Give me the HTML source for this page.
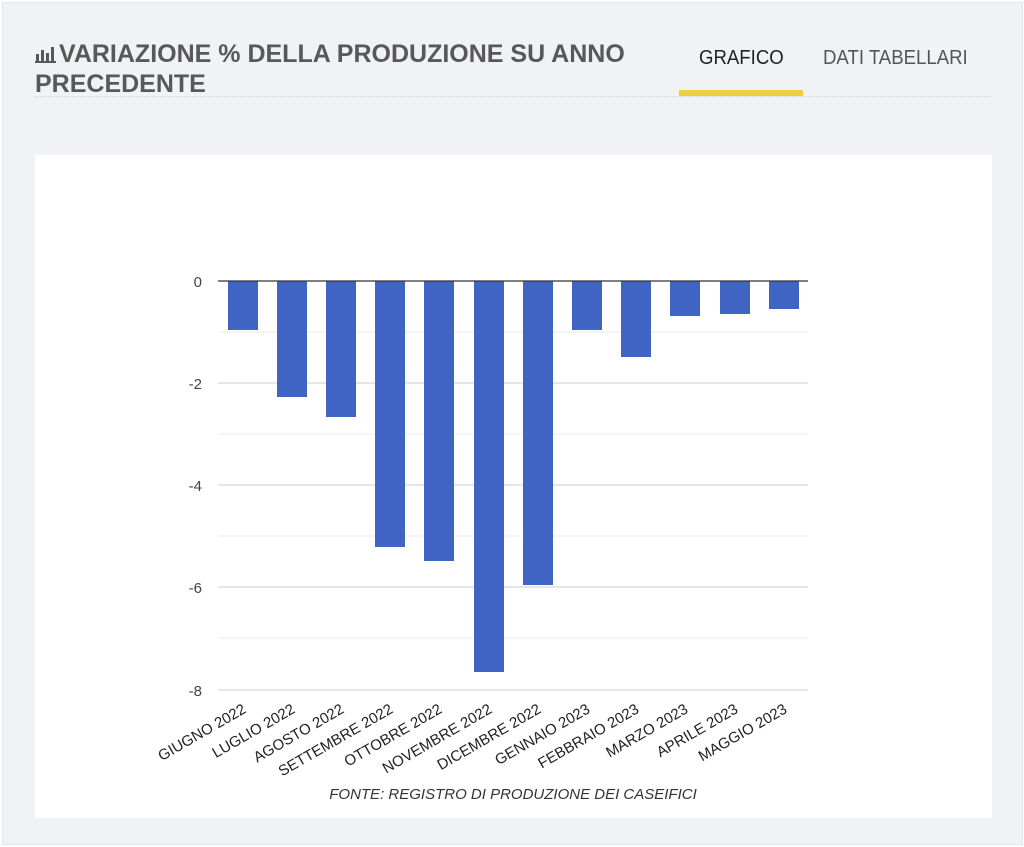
<!DOCTYPE html>
<html><head><meta charset="utf-8"><style>
body{margin:0;width:1024px;height:847px;background:#fff;font-family:"Liberation Sans",sans-serif;overflow:hidden}
.wrap{position:absolute;left:2px;top:2px;width:1019px;height:841px;background:#f1f2f6;border:1px solid #e2e4ea}
.title{position:absolute;left:32px;top:36px;color:#585858;font-weight:bold;font-size:25px;line-height:30px;transform:scaleX(1.0);transform-origin:0 0;width:720px;letter-spacing:0px}
.tab{position:absolute;top:44px;font-size:20px;color:#333;transform:scaleX(0.93);transform-origin:0 0}
.line{position:absolute;left:32px;top:93px;width:956px;border-top:1px dotted #d8d8d8}
.yb{position:absolute;left:676px;top:87px;width:124px;height:6px;background:#f2cc3d}
.panel{position:absolute;left:32px;top:152px;width:957px;height:663px;background:#fff}
</style></head><body>
<div class="wrap">
<div class="title"><svg width="24" height="18" style="vertical-align:-1px"><g fill="#585858"><rect x="1" y="9" width="3" height="7"/><rect x="6" y="5" width="3" height="11"/><rect x="11" y="8" width="3" height="8"/><rect x="16" y="2" width="3" height="14"/><rect x="0" y="16" width="21" height="2"/></g></svg>VARIAZIONE % DELLA PRODUZIONE SU ANNO<br>PRECEDENTE</div>
<div class="tab" style="left:696px;color:#222">GRAFICO</div>
<div class="tab" style="left:820px;color:#555">DATI TABELLARI</div>
<div class="line"></div>
<div class="yb"></div>
<div class="panel"></div>
</div>
<svg width="1024" height="847" style="position:absolute;left:0;top:0" font-family="Liberation Sans, sans-serif">
<g stroke="#ebebeb"><line x1="218" x2="808" y1="332" y2="332"/><line x1="218" x2="808" y1="434" y2="434"/><line x1="218" x2="808" y1="536" y2="536"/><line x1="218" x2="808" y1="638" y2="638"/></g>
<g stroke="#ccc"><line x1="218" x2="808" y1="383" y2="383"/><line x1="218" x2="808" y1="485" y2="485"/><line x1="218" x2="808" y1="587" y2="587"/><line x1="218" x2="808" y1="690" y2="690"/></g>
<g font-size="15" fill="#444" text-anchor="end"><text x="202" y="287">0</text><text x="202" y="389">-2</text><text x="202" y="491">-4</text><text x="202" y="593">-6</text><text x="202" y="696">-8</text></g>
<g fill="#4064c4">
<rect x="228" y="281" width="30" height="49"/>
<rect x="277" y="281" width="30" height="116"/>
<rect x="326" y="281" width="30" height="136"/>
<rect x="375" y="281" width="30" height="266"/>
<rect x="424" y="281" width="30" height="280"/>
<rect x="474" y="281" width="30" height="391"/>
<rect x="523" y="281" width="30" height="304"/>
<rect x="572" y="281" width="30" height="49"/>
<rect x="621" y="281" width="30" height="76"/>
<rect x="670" y="281" width="30" height="35"/>
<rect x="720" y="281" width="30" height="33"/>
<rect x="769" y="281" width="30" height="28"/>
</g>
<line x1="218" x2="808" y1="281" y2="281" stroke="#333" stroke-width="1.2"/>
<g font-size="15" fill="#222" text-anchor="end">
<text transform="translate(247,712) rotate(-30)">GIUGNO 2022</text>
<text transform="translate(296,712) rotate(-30)">LUGLIO 2022</text>
<text transform="translate(345,712) rotate(-30)">AGOSTO 2022</text>
<text transform="translate(394,712) rotate(-30)">SETTEMBRE 2022</text>
<text transform="translate(443,712) rotate(-30)">OTTOBRE 2022</text>
<text transform="translate(493,712) rotate(-30)">NOVEMBRE 2022</text>
<text transform="translate(542,712) rotate(-30)">DICEMBRE 2022</text>
<text transform="translate(591,712) rotate(-30)">GENNAIO 2023</text>
<text transform="translate(640,712) rotate(-30)">FEBBRAIO 2023</text>
<text transform="translate(689,712) rotate(-30)">MARZO 2023</text>
<text transform="translate(739,712) rotate(-30)">APRILE 2023</text>
<text transform="translate(788,712) rotate(-30)">MAGGIO 2023</text>
</g>
<text x="513" y="799" font-size="15" font-style="italic" fill="#333" text-anchor="middle">FONTE: REGISTRO DI PRODUZIONE DEI CASEIFICI</text>
</svg>
</body></html>
